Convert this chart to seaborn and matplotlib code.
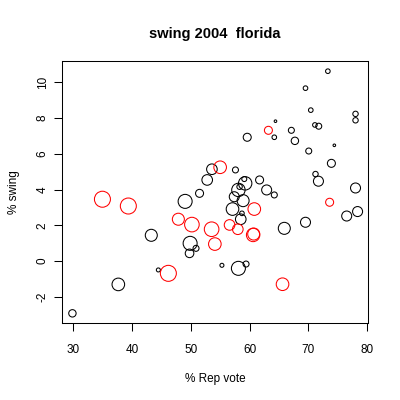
import matplotlib
matplotlib.use("Agg")
import matplotlib.pyplot as plt
import seaborn as sns
import pandas as pd

# % Republican vote 2004, % swing, relative county size, voting machine type
rep_vote = [29.9, 37.7, 44.5, 43.3, 49.05, 49.9, 50.9, 49.8, 51.5, 52.8,
            53.6, 57.6, 59.6, 58.1, 58.3, 58.9, 57.4, 57.1, 58.7, 58.5,
            59.25, 59.1, 61.7, 62.9, 64.2, 55.3, 58.1, 59.4, 65.9, 69.5,
            76.5, 78.35, 78.0, 73.9, 71.2, 71.7, 70.05, 67.7, 67.1, 74.4,
            71.75, 71.1, 70.4, 69.5, 73.3, 78.0, 78.0, 64.4, 64.2,
            35.0, 39.4, 47.9, 50.2, 53.55, 54.1, 56.6, 58.0, 60.8, 60.6,
            60.7, 46.2, 65.6, 73.6, 63.2, 55.0]
swing = [-2.93, -1.31, -0.50, 1.44, 3.34, 0.99, 0.71, 0.43, 3.79, 4.54,
         5.14, 5.10, 6.93, 3.98, 4.16, 3.38, 3.60, 2.91, 2.67, 2.34,
         4.35, 4.59, 4.54, 3.98, 3.70, -0.24, -0.41, -0.17, 1.83, 2.17,
         2.52, 2.77, 4.09, 5.47, 4.87, 4.47, 6.16, 6.73, 7.32, 6.48,
         7.55, 7.62, 8.45, 9.68, 10.63, 8.24, 7.88, 7.83, 6.93,
         3.46, 3.08, 2.34, 2.04, 1.78, 0.95, 2.02, 1.78, 2.91, 1.46,
         1.51, -0.69, -1.30, 3.29, 7.32, 5.25]
county_size = [3.7, 6.3, 2.0, 6.0, 7.0, 7.0, 3.0, 4.3, 4.0, 5.3,
               5.3, 3.0, 4.0, 6.7, 2.7, 6.0, 5.0, 6.3, 2.3, 5.3,
               6.7, 2.5, 4.0, 5.0, 3.0, 2.0, 7.0, 3.0, 6.0, 5.0,
               5.0, 5.0, 5.0, 4.0, 2.7, 5.0, 3.0, 3.7, 3.0, 1.3,
               3.0, 2.3, 2.3, 2.3, 2.3, 2.7, 2.7, 1.3, 2.3,
               8.0, 8.0, 6.0, 7.3, 7.3, 6.3, 5.3, 5.3, 6.3, 6.7,
               6.0, 8.0, 6.3, 4.0, 4.0, 6.3]
machine = ["optical"] * 49 + ["touchscreen"] * 16

x_ticks = [30, 40, 50, 60, 70, 80]
y_ticks = [-2, 0, 2, 4, 6, 8, 10]

df = pd.DataFrame({"rep": rep_vote, "swing": swing,
                   "area": [v ** 2 for v in county_size], "machine": machine})

plt.rcParams["font.family"] = ["Liberation Sans", "DejaVu Sans"]

fig = plt.figure(figsize=(4, 4), dpi=100)
ax = fig.add_axes([0.155, 0.193, 0.765, 0.654])

max_r = 8.0
sns.scatterplot(data=df, x="rep", y="swing", hue="machine", size="area",
                palette={"optical": "black", "touchscreen": "red"},
                sizes=(0, (1.44 * max_r) ** 2), size_norm=(0, max_r ** 2),
                facecolors="none", linewidths=0.75, legend=False, ax=ax)
# open circles: set edge colours from hue
coll = ax.collections[0]
coll.set_edgecolors(coll.get_facecolors())
coll.set_facecolors("none")

ax.set_xlim(28.13, 80.12)
ax.set_ylim(-3.46, 11.19)
ax.set_xticks(x_ticks)
ax.set_yticks(y_ticks)
ax.set_xticklabels([str(t) for t in x_ticks])
ax.set_yticklabels([str(t) for t in y_ticks], rotation=90, va="center")
ax.tick_params(length=5.5, width=0.75, labelsize=8.5)
ax.tick_params(axis="x", pad=10)
ax.tick_params(axis="y", pad=4)
for s in ax.spines.values():
    s.set_linewidth(0.75)
    s.set_color("black")

ax.set_xlabel("% Rep vote", fontsize=8.5, labelpad=12)
ax.set_ylabel("% swing", fontsize=8.5, labelpad=12)
ax.set_title("swing 2004  florida", fontsize=10.5, fontweight="bold", pad=17)

fig.savefig("out.png", dpi=100)
